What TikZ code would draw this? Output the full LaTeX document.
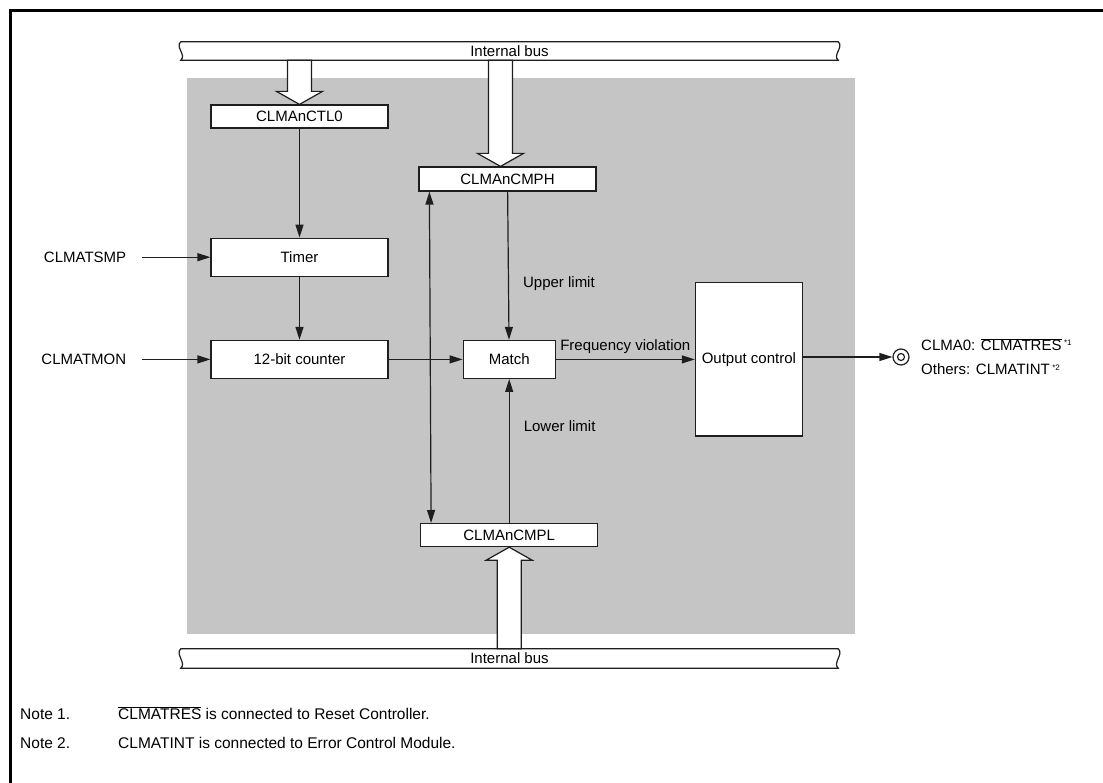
\documentclass[tikz,border=0pt]{standalone}
\usepackage{fontspec}
\setmainfont{Liberation Sans}
\usetikzlibrary{arrows.meta, positioning, calc, backgrounds}
\definecolor{cpanel}{RGB}{196, 197, 196}
\definecolor{cline}{RGB}{30, 30, 30}
\tikzset{
  box/.style={draw=cline, line width=1.2pt, fill=white, inner sep=0pt,
              font=\fontsize{15}{18}\selectfont},
  arr/.style={-{Triangle[length=13pt, width=8pt]}, line width=1.2pt, draw=cline},
  dblarr/.style={{Triangle[length=13pt, width=8pt]}-{Triangle[length=13pt, width=8pt]},
                 line width=1.2pt, draw=cline},
  lab/.style={font=\fontsize{15}{18}\selectfont, inner sep=2pt},
  bus/.style={minimum width=657pt, inner sep=0pt, font=\fontsize{15}{18}\selectfont},
  hollow/.style={draw=cline, line width=1.2pt, fill=white},
  note/.style={font=\fontsize{15.5}{19}\selectfont, anchor=base west, inner sep=0pt},
}
\newcommand{\ovl}[1]{$\overline{\hbox{#1}}$}
\newcommand{\noteref}[1]{\,\raisebox{5pt}{\fontsize{8}{8}\selectfont *#1}}
% wavy-ended bus outline round a bus node
\newcommand{\busline}[1]{%
  \draw[hollow] (#1.north west) -- (#1.north east)
    .. controls +(6,5) and +(-6,-5) .. (#1.south east) -- (#1.south west)
    .. controls +(6,-5) and +(-6,5) .. (#1.north west) -- cycle;}
% hollow block arrow from a bus (#1) to a box anchor (#2), #3 = head offset
\newcommand{\busarrow}[3]{%
  \draw[hollow] ($(#2 |- #1)+(-12,0)$) -- ($(#2)+(-12,#3)$) -- ($(#2)+(-23,#3)$)
    -- (#2) -- ($(#2)+(23,#3)$) -- ($(#2)+(12,#3)$) -- ($(#2 |- #1)+(12,0)$) -- cycle;}

\begin{document}
\begin{tikzpicture}[x=1pt, y=-1pt]
\useasboundingbox (0,0) rectangle (1103,783);

% ---------- frame ----------
\draw[line width=2.5pt, black] (10.5,783) -- (10.5,10.5) -- (1103,10.5);

% ---------- buses ----------
\node[bus, minimum height=18pt] (topbus) at (509.5,51) {Internal bus};
\node[bus, minimum height=19pt] (botbus) at (509.5,658.5) {Internal bus};

% ---------- registers and blocks ----------
\node[box, minimum width=177pt, minimum height=23pt] (ctl) at (299.5,116.5) {CLMAnCTL0};
\node[box, minimum width=177pt, minimum height=38pt, below=109pt of ctl] (timer) {Timer};
\node[box, minimum width=177pt, minimum height=38pt, below=63pt of timer] (cnt) {12-bit counter};
\node[box, minimum width=92pt, minimum height=38pt, right=74pt of cnt] (match) {Match};
\node[box, minimum width=177pt, minimum height=24pt] (cmph) at (507.5,179) {CLMAnCMPH};
\node[box, minimum width=177pt, minimum height=23pt, below=144pt of match] (cmpl) {CLMAnCMPL};
\node[box, minimum width=107pt, minimum height=153pt, right=139pt of match] (outc) {Output control};
\coordinate (hin) at ([xshift=-7pt]cmph.north);

% ---------- inputs ----------
\node[lab, left=82pt of timer] (smp) {CLMATSMP};
\node[lab, left=82pt of cnt] (mon) {CLMATMON};

% ---------- output pin ----------
\node[circle, draw=cline, line width=1.2pt, minimum size=16pt, inner sep=0pt] (pin) at (901,357) {};
\draw[line width=1.2pt, draw=cline] (pin) circle[radius=3.5pt];
\node[lab, anchor=base west] (out1) at (919,351) {CLMA0: \ovl{CLMATRES}\noteref{1}};
\node[lab, anchor=base west] (out2) at (919,375) {Others: CLMATINT\noteref{2}};

% ---------- connectors ----------
\draw[arr, shorten <=14pt] (smp) -- (timer);
\draw[arr, shorten <=14pt] (mon) -- (cnt);
\draw[arr] (ctl) -- (timer);
\draw[arr] (timer) -- (cnt);
\draw[arr] (cnt) -- (match);
\draw[arr] (cmph) -- node[lab, pos=0.62, right=12pt] {Upper limit} (match);
\draw[arr] (cmpl) -- node[lab, pos=0.67, right=12pt] {Lower limit} (match);
\draw[arr] (match) -- node[lab, above=3pt] {Frequency violation} (match -| outc.west);
\draw[arr] (outc.east |- pin) -- (pin);
\draw[dblarr] ([xshift=11pt]cmph.south west) -- ([xshift=11pt]cmpl.north west);

% ---------- bus transfers ----------
\busarrow{topbus.south}{ctl.north}{-13}
\busarrow{topbus.south}{hin}{-13}
\busarrow{botbus.north}{cmpl.south}{13}

\begin{scope}[on background layer]
  \fill[cpanel] (187,78) rectangle (855,634);
  \busline{topbus}
  \busline{botbus}
\end{scope}

% ---------- notes ----------
\node[note] (n1) at (20,719) {Note 1.};
\node[note] (n1t) at (118,719) {\ovl{CLMATRES} is connected to Reset Controller.};
\node[note] (n2) at (20,748) {Note 2.};
\node[note] (n2t) at (118,748) {CLMATINT is connected to Error Control Module.};

\end{tikzpicture}
\end{document}
